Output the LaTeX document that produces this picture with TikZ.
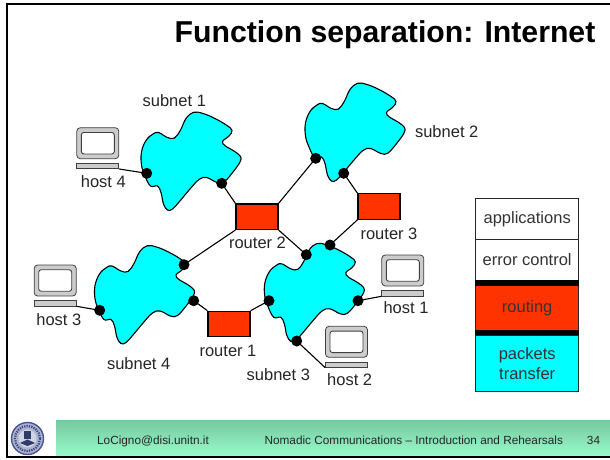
\documentclass[tikz,border=0pt]{standalone}
\usepackage{fontspec}
\setmainfont{Liberation Sans}
\usepackage{tikz}
\usetikzlibrary{calc}
\usepackage{color}
\definecolor{subnetcyan}{RGB}{0, 255, 255}
\definecolor{routerred}{RGB}{255, 51, 0}
\definecolor{footertop}{RGB}{120, 200, 160}
\definecolor{footerbot}{RGB}{152, 252, 204}
\definecolor{logoblue}{RGB}{70, 85, 150}
\tikzset{
  subnetblob/.style={draw=black, fill=subnetcyan, line width=1.1pt},
  routerbox/.style={draw=black, fill=routerred, line width=1.2pt, minimum width=42pt, minimum height=25.5pt, inner sep=0pt},
  joindot/.style={circle, fill=black, minimum size=11pt, inner sep=0pt},
  link/.style={draw=black, line width=1.1pt},
  lbl/.style={anchor=base, inner sep=0pt, font=\fontsize{16.5}{20}\selectfont, text=black!85},
  screenout/.style={draw=black!75, fill=black!20, rounded corners=3.5pt, line width=.8pt, minimum width=42pt, minimum height=31pt, inner sep=0pt},
  screenin/.style={draw=black!75, fill=white, rounded corners=2.5pt, line width=.9pt, minimum width=33pt, minimum height=21.5pt, inner sep=0pt},
  hostbase/.style={draw=black!75, fill=black!20, line width=.7pt, minimum width=42pt, minimum height=5.3pt, inner sep=0pt},
  layerbox/.style={draw=black!85, line width=.8pt, minimum width=103pt, inner sep=0pt, align=center, font=\fontsize{16.5}{20}\selectfont, text=black!80},
  footertxt/.style={anchor=base, inner sep=0pt, font=\fontsize{11.8}{14}\selectfont, text=black!85}
}
% one cloud, drawn at an offset from the first one
\newcommand{\subnetshape}[2]{
  \draw[subnetblob, shift={(#1,#2)}] plot[smooth cycle, tension=.65] coordinates {
    (193.5,112.3) (203.0,113.5) (215.0,118.5) (227.0,125.5) (232.0,130.5) (229.0,136.0)
    (222.5,141.5) (225.5,146.0) (234.0,151.0) (240.5,156.5) (240.0,162.0) (233.0,172.0)
    (224.0,182.0) (217.0,182.5) (206.5,177.5) (199.0,179.5) (190.0,189.0) (179.5,201.5)
    (172.5,209.0) (167.5,210.0) (163.5,204.0) (161.0,192.5) (157.5,186.0) (150.5,186.0)
    (145.0,176.0) (141.5,165.0) (141.5,152.0) (146.0,140.5) (153.0,134.0) (158.5,132.5)
    (167.5,137.5) (174.5,138.0) (180.5,130.0) (186.0,118.5)};
}
% one computer: name, centre x, top of the screen
\newcommand{\hostshape}[3]{
  \node[screenout] (#1scr) at (#2,#3+15.5) {};
  \node[screenin]  (#1in)  at (#1scr.center) {};
  \node[hostbase]  (#1)    at (#2,#3+38.3) {};
}
\begin{document}
\begin{tikzpicture}[x=1pt, y=-1pt]
            \useasboundingbox (0,0) rectangle (610,459);
            % Slide frame and footer:
            \fill[white] (0,0) rectangle (610,459);
            \shade[top color=footertop, bottom color=footerbot] (56,420.5) rectangle (610,456.5);
            \draw[black!35, line width=.6pt] (6,2.8) -- (610,2.8);
            \draw[black, line width=2pt] (610,4.3) -- (7,4.3) -- (7,457);
            \draw[black, line width=1.4pt] (6,457) -- (610,457);
            % Logo:
            \node[circle, draw=logoblue, fill=logoblue!45, line width=1.4pt, minimum size=32pt, inner sep=0pt] (logo) at (27.5,438.5) {};
            \draw[logoblue!80!black, line width=2.2pt, dash pattern=on 1.2pt off 1.2pt] (logo.center) circle (12.5);
            \node[circle, fill=white!75!logoblue, minimum size=18pt, inner sep=0pt] (logoin) at (logo.center) {};
            \fill[logoblue!70!black] (24,431) rectangle (31,438.5);
            \fill[logoblue!70!black] (20,443) -- (27.5,439.5) -- (35,443) -- (27.5,446) -- cycle;
            % Title:
            \node[anchor=base, inner sep=0pt, font=\fontsize{30.2}{36}\selectfont\bfseries] (title) at (385,42.7) {Function separation: Internet};
            % Clouds:
            \subnetshape{0}{0}
            \subnetshape{164}{-29}
            \subnetshape{123.3}{131.3}
            \subnetshape{-46.5}{133.5}
            % Routers:
            \node[routerbox] (router2) at (257,216.7) {};
            \node[routerbox] (router3) at (379,206.5) {};
            \node[routerbox] (router1) at (229,324) {};
            % Computers:
            \hostshape{host4}{97.8}{127.7}
            \hostshape{host1}{402.8}{255}
            \hostshape{host2}{346.5}{326.3}
            \hostshape{host3}{55.2}{265}
            % Points where the links enter the clouds:
            \node[joindot] (s1a) at (146.7,173.3) {};
            \node[joindot] (s1b) at (221.7,183.3) {};
            \node[joindot] (s2a) at (315.7,158.3) {};
            \node[joindot] (s2b) at (343.7,173.3) {};
            \node[joindot] (s3a) at (306.3,254.7) {};
            \node[joindot] (s3b) at (330.0,245.0) {};
            \node[joindot] (s3c) at (269.0,300.7) {};
            \node[joindot] (s3d) at (358.0,300.7) {};
            \node[joindot] (s3e) at (296.7,341.0) {};
            \node[joindot] (s4a) at (184.0,264.7) {};
            \node[joindot] (s4b) at (193.7,300.7) {};
            \node[joindot] (s4c) at (99.7,310.3) {};
            % Links:
            \draw[link] (s1b.center) -- (router2.north west);
            \draw[link] (s4a.center) -- (router2.south west);
            \draw[link] (s2a.center) -- (router2.north east);
            \draw[link] (s3a.center) -- (router2.south east);
            \draw[link] (s2b.center) -- (router3.north west);
            \draw[link] (s3b.center) -- (router3.south west);
            \draw[link] (s4b.center) -- (router1.north west);
            \draw[link] (s3c.center) -- (router1.north east);
            \draw[link] (host4.south east) -- (s1a.center);
            \draw[link] (host3.south east) -- (s4c.center);
            \draw[link] (host1.south west) -- (s3d.center);
            \draw[link] (host2.south west) -- (s3e.center);
            % Labels:
            \node[lbl] (lsub1) at (174.3,106.7) {subnet 1};
            \node[lbl] (lsub2) at (446.7,137.7) {subnet 2};
            \node[lbl] (lsub3) at (278.3,380.7) {subnet 3};
            \node[lbl] (lsub4) at (138.7,369.3) {subnet 4};
            \node[lbl] (lrt1)  at (228.0,356.0) {router 1};
            \node[lbl] (lrt2)  at (257.5,248.3) {router 2};
            \node[lbl] (lrt3)  at (389.0,239.0) {router 3};
            \node[lbl] (lhst1) at (406.0,313.7) {host 1};
            \node[lbl] (lhst2) at (349.7,385.7) {host 2};
            \node[lbl] (lhst3) at (58.8,325.7)  {host 3};
            \node[lbl] (lhst4) at (103.3,187.7) {host 4};
            % Layer stack:
            \node[layerbox, fill=white, minimum height=40.6pt] (lapp) at (527.2,219.0) {applications};
            \node[layerbox, fill=white, minimum height=40.7pt] (lerr) at (527.2,259.65) {error control};
            \node[layerbox, fill=routerred, minimum height=44.3pt] (lrou) at (527.2,307.85) {routing};
            \node[layerbox, fill=subnetcyan, minimum height=55.3pt] (lpkt) at (527.2,363.35) {packets\\transfer};
            \fill[black] (lerr.south west) rectangle ($(lrou.north east)+(0,.6)$);
            \fill[black] (lrou.south west) rectangle (lpkt.north east);
            % Footer text:
            \node[footertxt] (fmail) at (153,444.3) {LoCigno@disi.unitn.it};
            \node[footertxt] (fname) at (413.8,444.3) {Nomadic Communications – Introduction and Rehearsals};
            \node[footertxt] (fpage) at (593.5,444.3) {34};
        \end{tikzpicture}
\end{document}
